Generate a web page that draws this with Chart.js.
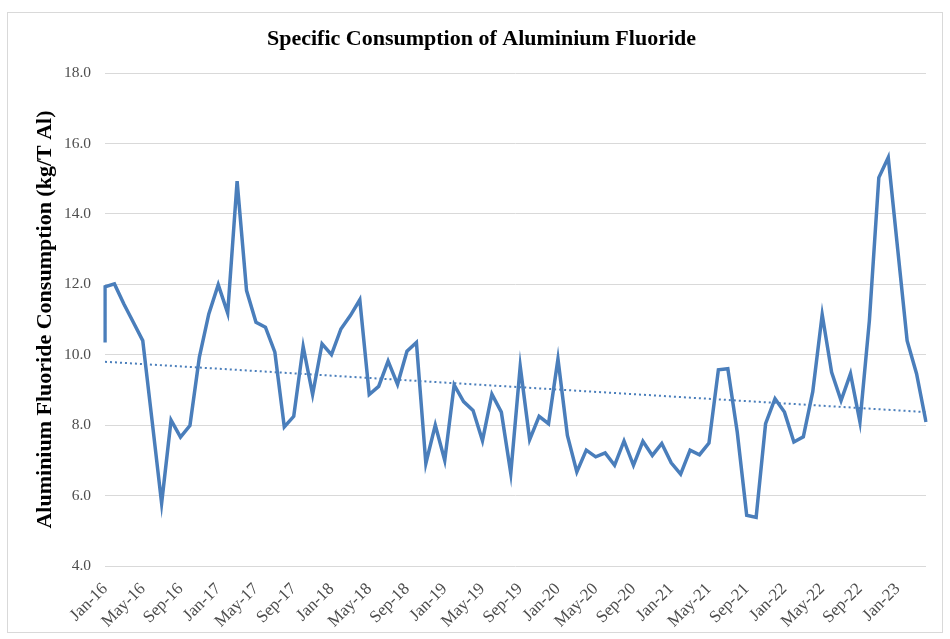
<!DOCTYPE html>
<HTML>
    <HEAD>
        <meta charset="UTF-8">
        <TITLE>Specific Consumption of Aluminium Fluoride</TITLE>
        <script src="https://cdn.jsdelivr.net/npm/chart.js"></script>
        <style>
            body { margin:0; background:#ffffff; }
            .frame { position:absolute; left:7px; top:12px; width:934px; height:619px; border:1px solid #d9d9d9; }
            .chart-container { position:absolute; left:0; top:0; width:950px; height:639px; }
        </style>
    </HEAD>
    <BODY>

<SCRIPT type="text/javascript">
    // monthly categories, Jan-16 .. Apr-23
    const arrMonths = [
        'Jan-16','Feb-16','Mar-16','Apr-16','May-16','Jun-16','Jul-16','Aug-16','Sep-16','Oct-16','Nov-16','Dec-16',
        'Jan-17','Feb-17','Mar-17','Apr-17','May-17','Jun-17','Jul-17','Aug-17','Sep-17','Oct-17','Nov-17','Dec-17',
        'Jan-18','Feb-18','Mar-18','Apr-18','May-18','Jun-18','Jul-18','Aug-18','Sep-18','Oct-18','Nov-18','Dec-18',
        'Jan-19','Feb-19','Mar-19','Apr-19','May-19','Jun-19','Jul-19','Aug-19','Sep-19','Oct-19','Nov-19','Dec-19',
        'Jan-20','Feb-20','Mar-20','Apr-20','May-20','Jun-20','Jul-20','Aug-20','Sep-20','Oct-20','Nov-20','Dec-20',
        'Jan-21','Feb-21','Mar-21','Apr-21','May-21','Jun-21','Jul-21','Aug-21','Sep-21','Oct-21','Nov-21','Dec-21',
        'Jan-22','Feb-22','Mar-22','Apr-22','May-22','Jun-22','Jul-22','Aug-22','Sep-22','Oct-22','Nov-22','Dec-22',
        'Jan-23','Feb-23','Mar-23','Apr-23'
    ];

    // first row sits on Jan-16 too (vertical jump at the start)
    const openingValue = 10.35;

    // kg/T Al, one per month
    const arrConsumption = [
        11.93,12.01,11.44,10.92,10.40, 8.10, 5.78, 8.14, 7.66, 7.99, 9.93,11.16,
        11.99,11.18,14.93,11.82,10.92,10.78,10.07, 7.95, 8.25,10.23, 8.87,10.31,
        10.00,10.73,11.11,11.56, 8.87, 9.10, 9.82, 9.16,10.10,10.35, 6.91, 8.00,
         7.00, 9.14, 8.67, 8.42, 7.56, 8.88, 8.37, 6.63, 9.67, 7.59, 8.25, 8.04,
         9.88, 7.71, 6.67, 7.29, 7.10, 7.21, 6.86, 7.55, 6.86, 7.54, 7.14, 7.48,
         6.93, 6.61, 7.29, 7.16, 7.49, 9.57, 9.60, 7.80, 5.44, 5.38, 8.04, 8.75,
         8.37, 7.52, 7.67, 8.95,11.14, 9.50, 8.70, 9.46, 8.09,10.97,15.03,15.60,
        13.00,10.40, 9.46, 8.09
    ];

    // linear trend line, read at both ends
    const arrTrend = [9.80, 8.37];

    const arrYTicks = [4,6,8,10,12,14,16,18];

    const lineBlue = '#4a7ebb';
    const axisGrey = '#4d4d4d';
    const serif = "'Liberation Serif', 'DejaVu Serif', serif";
</SCRIPT>

        <DIV class="frame"></DIV>
        <div class="chart-container">
            <canvas id="afChart" width="950" height="639"></canvas>
        </div>

        <SCRIPT type="text/javascript">

            function buildSeries() {
                var pts = [{x: arrMonths[0], y: openingValue}];
                for (var i = 0; i < arrConsumption.length; i++) {
                    pts.push({x: arrMonths[i], y: arrConsumption[i]});
                }
                return pts;
            }

            function buildTrend() {
                return [
                    {x: arrMonths[0], y: arrTrend[0]},
                    {x: arrMonths[arrMonths.length-1], y: arrTrend[1]}
                ];
            }

            var ctx = document.getElementById('afChart').getContext('2d');
            var myChart = new Chart(ctx, {
                type: 'line',
                data: {
                    labels: arrMonths,
                    datasets: [
                        { label: 'Consumption', data: buildSeries(), borderColor: lineBlue, borderWidth: 3.5,
                          pointRadius: 0, tension: 0, fill: false },
                        { label: 'Trend', data: buildTrend(), borderColor: lineBlue, borderWidth: 2,
                          borderDash: [2,3], pointRadius: 0, fill: false }
                    ]
                },
                options: {
                    responsive: false,
                    animation: false,
                    // left padding only moves the title's centre, the y axis width is cut to match
                    layout: { padding: { left: 37, right: 24, top: 0, bottom: 0 } },
                    plugins: {
                        legend: { display: false },
                        tooltip: { enabled: false },
                        title: {
                            display: true,
                            text: 'Specific Consumption of Aluminium Fluoride',
                            color: '#000000',
                            font: { family: serif, size: 22, weight: 'bold' },
                            padding: { top: 26, bottom: 20.6 }
                        }
                    },
                    scales: {
                        x: {
                            type: 'category',
                            offset: false,
                            grid: { display: false },
                            border: { display: false },
                            ticks: {
                                autoSkip: false,
                                minRotation: 45, maxRotation: 45,
                                padding: 5,
                                color: axisGrey,
                                font: { family: serif, size: 17 },
                                callback: function(v, i) { return i % 4 === 0 ? arrMonths[i] : null; }
                            },
                            afterFit: function(scale) { scale.height = 73; }
                        },
                        y: {
                            min: arrYTicks[0],
                            max: arrYTicks[arrYTicks.length-1],
                            grid: { color: '#d9d9d9', drawTicks: false, lineWidth: 1 },
                            border: { display: false },
                            afterBuildTicks: function(scale) { scale.ticks = arrYTicks.map(function(v){ return {value: v}; }); },
                            ticks: {
                                padding: 14,
                                color: axisGrey,
                                font: { family: serif, size: 15.5 },
                                callback: function(v) { return Number(v).toFixed(1); }
                            },
                            title: {
                                display: true,
                                text: 'Aluminium Fluoride Consumption (kg/T Al)',
                                color: '#000000',
                                font: { family: serif, size: 22, weight: 'bold' },
                                padding: { top: -5, bottom: 0 }
                            },
                            afterFit: function(scale) { scale.width = 68; }
                        }
                    }
                }
            });
        </script>
    </BODY>
</HTML>
